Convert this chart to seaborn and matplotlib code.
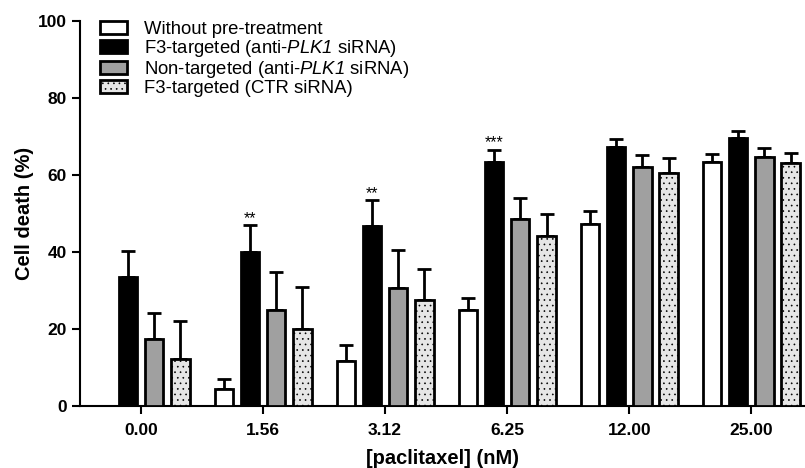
import numpy as np
import pandas as pd
import matplotlib
matplotlib.use("Agg")
import matplotlib.pyplot as plt
from matplotlib.patches import Patch
import seaborn as sns

# ---- data ----
concentrations = ["0.00", "1.56", "3.12", "6.25", "12.00", "25.00"]
groups = ["Without pre-treatment", "F3-targeted (anti-PLK1 siRNA)",
          "Non-targeted (anti-PLK1 siRNA)", "F3-targeted (CTR siRNA)"]
without_mean = [np.nan, 4.3, 11.8, 24.9, 47.4, 63.5]
without_err = [np.nan, 2.7, 4.0, 3.2, 3.2, 2.0]
f3_plk1_mean = [33.5, 40.1, 46.8, 63.3, 67.4, 69.7]
f3_plk1_err = [6.8, 6.9, 6.7, 3.3, 1.9, 1.7]
nt_plk1_mean = [17.4, 24.9, 30.7, 48.5, 62.1, 64.8]
nt_plk1_err = [6.8, 10.0, 9.8, 5.4, 3.0, 2.3]
f3_ctr_mean = [12.2, 19.9, 27.5, 44.2, 60.6, 63.2]
f3_ctr_err = [10.0, 10.9, 8.0, 5.8, 3.9, 2.5]
significance = {"1.56": "**", "3.12": "**", "6.25": "***"}
legend_labels = ["Without pre-treatment",
                 r"F3-targeted (anti-$\mathrm{PLK1}$ siRNA)",
                 r"Non-targeted (anti-$\mathrm{PLK1}$ siRNA)",
                 "F3-targeted (CTR siRNA)"]

means = [without_mean, f3_plk1_mean, nt_plk1_mean, f3_ctr_mean]
errs = [without_err, f3_plk1_err, nt_plk1_err, f3_ctr_err]

rows = []
for g, m, e in zip(groups, means, errs):
    for c, mv, ev in zip(concentrations, m, e):
        rows.append({"conc": c, "group": g, "value": mv, "err": ev})
df = pd.DataFrame(rows).dropna()

sns.set_theme(style="ticks")
plt.rcParams["font.family"] = ["Liberation Sans", "DejaVu Sans"]
plt.rcParams["mathtext.fontset"] = "custom"
plt.rcParams["mathtext.rm"] = "Liberation Sans:italic"
plt.rcParams["mathtext.it"] = "Liberation Sans:italic"
plt.rcParams["hatch.linewidth"] = 0.45
plt.rcParams["text.color"] = "black"
plt.rcParams["axes.labelcolor"] = "black"
plt.rcParams["xtick.color"] = "black"
plt.rcParams["ytick.color"] = "black"
plt.rcParams["axes.edgecolor"] = "black"

facecolors = ["white", "black", "#a0a0a0", "#e6e6e6"]
palette = dict(zip(groups, facecolors))

fig = plt.figure(figsize=(8.05, 4.68), dpi=100)
ax = fig.add_axes([80 / 805, 1 - 406 / 468, 725 / 805, 385 / 468])

sns.barplot(data=df, x="conc", y="value", hue="group", order=concentrations,
            hue_order=groups, palette=palette, edgecolor="black", linewidth=2,
            width=0.86, gap=0.3, errorbar=None, legend=False, ax=ax, zorder=3)

err_lookup = {(r.group, r.conc): r.err for r in df.itertuples()}
bar_containers = list(ax.containers)
for gi, cont in enumerate(bar_containers):
    g = groups[gi]
    for bar in cont:
        xc = bar.get_x() + bar.get_width() / 2
        ci = int(round(xc))
        c = concentrations[ci]
        h = bar.get_height()
        e = err_lookup[(g, c)]
        if gi == 3:
            bar.set_hatch("...")
        ax.errorbar([xc], [h], yerr=[[0], [e]], fmt="none", ecolor="black",
                    elinewidth=2, capsize=5, capthick=2, zorder=2)
        if gi == 1 and c in significance:
            ax.text(xc, h + e - 0.2, significance[c], ha="center", va="bottom",
                    fontsize=11.5)

ax.set_xlim(-0.5, 5.44)
ax.set_ylim(0, 100)
ax.set_yticks([0, 20, 40, 60, 80, 100])
sns.despine(ax=ax)
ax.spines["left"].set_linewidth(1.5)
ax.spines["bottom"].set_linewidth(1.5)
ax.tick_params(axis="both", width=1.5, length=6, labelsize=12.5, direction="out")
ax.tick_params(axis="x", pad=6)
for lab in ax.get_xticklabels() + ax.get_yticklabels():
    lab.set_fontweight("bold")
ax.set_xlabel("[paclitaxel] (nM)", fontsize=14.5, fontweight="bold", labelpad=8)
ax.set_ylabel("Cell death (%)", fontsize=14.5, fontweight="bold", labelpad=3)

handles = []
for i, fc in enumerate(facecolors):
    handles.append(Patch(facecolor=fc, edgecolor="black", linewidth=2,
                         hatch="..." if i == 3 else None))
leg = ax.legend(handles, legend_labels, loc="upper left", frameon=False,
                fontsize=13.3, bbox_to_anchor=(0.0175, 1.019), handlelength=1.45,
                handleheight=0.7, labelspacing=0.0, handletextpad=0.95,
                borderaxespad=0.0)

fig.savefig("out.png", dpi=100)
